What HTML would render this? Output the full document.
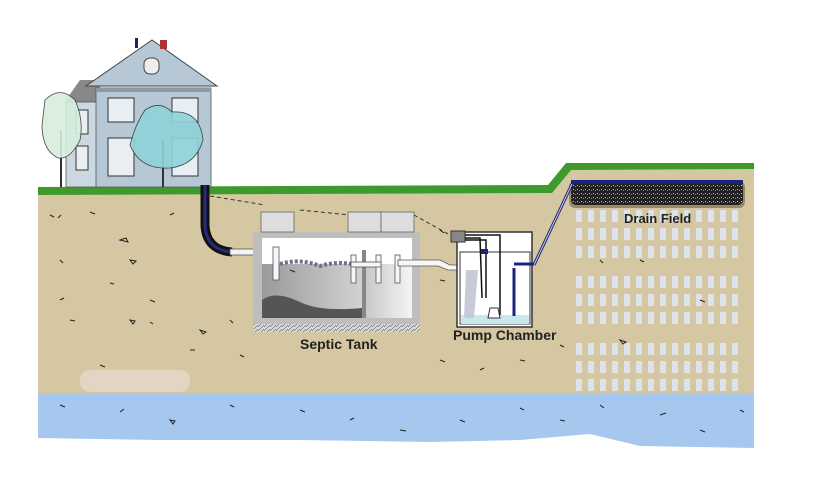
<!DOCTYPE html>
<html><head><meta charset="utf-8"><style>
html,body{margin:0;padding:0;background:#fff;width:839px;height:496px;overflow:hidden}
svg{display:block}
text{font-family:"Liberation Sans",sans-serif;font-weight:bold;fill:#222}
</style></head><body>
<svg width="839" height="496" viewBox="0 0 839 496" xmlns="http://www.w3.org/2000/svg">
<defs>
<linearGradient id="tg" x1="0" x2="1"><stop offset="0" stop-color="#9a9a9a"/><stop offset="1" stop-color="#eeeeee"/></linearGradient>
<linearGradient id="tg2" x1="0" x2="1"><stop offset="0" stop-color="#c8c8c8"/><stop offset="1" stop-color="#f4f4f4"/></linearGradient>
<pattern id="grav" width="6" height="4" patternUnits="userSpaceOnUse"><rect width="6" height="4" fill="#ddd"/><path d="M0 3 L3 0 M3 4 L6 1" stroke="#777" stroke-width="0.8"/></pattern>
<pattern id="dg" width="4" height="4" patternUnits="userSpaceOnUse"><rect width="4" height="4" fill="#222"/><rect x="1" y="1" width="1" height="1" fill="#ccc"/><rect x="3" y="2" width="1" height="1" fill="#888"/></pattern>
</defs>
<!-- soil -->
<path d="M38 192 L548 190 L570 166 L754 166 L754 400 L38 400 Z" fill="#d5c7a1"/>
<!-- water -->
<path d="M38 393 L754 393 L754 448 L640 446 L590 434 L520 440 L430 442 L300 440 L160 440 L38 438 Z" fill="#a6c8ee"/>
<!-- grass -->
<path d="M38 187 L548 185 L566 163 L754 163 L754 169 L571 170 L552 193 L38 195 Z" fill="#3f9a2d"/>
<!-- drain field bars -->
<g fill="#dde3ea">
<g id="row"><rect x="576" y="210" width="6" height="12"/><rect x="588" y="210" width="6" height="12"/><rect x="600" y="210" width="6" height="12"/><rect x="612" y="210" width="6" height="12"/><rect x="624" y="210" width="6" height="12"/><rect x="636" y="210" width="6" height="12"/><rect x="648" y="210" width="6" height="12"/><rect x="660" y="210" width="6" height="12"/><rect x="672" y="210" width="6" height="12"/><rect x="684" y="210" width="6" height="12"/><rect x="696" y="210" width="6" height="12"/><rect x="708" y="210" width="6" height="12"/><rect x="720" y="210" width="6" height="12"/><rect x="732" y="210" width="6" height="12"/></g>
<use href="#row" y="18"/><use href="#row" y="36"/>
<use href="#row" y="66"/><use href="#row" y="84"/><use href="#row" y="102"/>
<use href="#row" y="133"/><use href="#row" y="151"/><use href="#row" y="169"/>
</g>
<!-- gravel bed -->
<rect x="569" y="181" width="176" height="27" rx="6" fill="#9c8a66"/>
<rect x="571" y="182" width="172" height="23" rx="5" fill="url(#dg)"/>
<rect x="571" y="180" width="172" height="4" fill="#1a237e"/>
<text x="624" y="223" font-size="13">Drain Field</text>
<!-- pipe to drain field -->
<path d="M534 265 L572 184" stroke="#1a237e" stroke-width="3" fill="none"/>
<path d="M534 265 L572 184" stroke="#ccd" stroke-width="1" fill="none"/>
<!-- house -->
<path d="M66 100 L80 80 L100 80 L100 187 L66 187 Z" fill="#888"/>
<rect x="66" y="102" width="34" height="85" fill="#cbd8e2" stroke="#555" stroke-width="0.8"/>
<rect x="96" y="88" width="115" height="99" fill="#b6c8d6" stroke="#555" stroke-width="0.8"/>
<path d="M86 86 L152 40 L217 86 Z" fill="#b6c8d6" stroke="#444" stroke-width="1"/>
<rect x="96" y="88" width="115" height="4" fill="#8a9aa8"/>
<rect x="144" y="58" width="15" height="16" rx="6" fill="#eee" stroke="#444"/>
<rect x="160" y="40" width="7" height="9" fill="#a33"/>
<rect x="135" y="38" width="3" height="10" fill="#225"/>
<g fill="#e8eef2" stroke="#333" stroke-width="1">
<rect x="108" y="98" width="26" height="24"/><rect x="172" y="98" width="26" height="24"/>
<rect x="108" y="138" width="26" height="38"/><rect x="172" y="138" width="26" height="38"/>
<rect x="76" y="110" width="12" height="24"/><rect x="76" y="146" width="12" height="24"/>
</g>
<!-- trees -->
<path d="M61 187 L61 130" stroke="#333" stroke-width="2"/>
<path d="M45 100 Q60 85 75 100 Q84 120 80 140 Q70 160 58 158 Q42 150 42 125 Z" fill="#d6eedd" stroke="#333" stroke-width="0.8" opacity="0.9"/>
<path d="M163 187 L163 140" stroke="#333" stroke-width="2"/>
<path d="M145 110 Q160 100 172 112 Q200 110 203 140 Q196 165 170 168 Q140 170 130 145 Q135 125 145 110 Z" fill="#8ed3d8" stroke="#333" stroke-width="0.8" opacity="0.9"/>
<!-- inlet pipe -->
<path d="M205 185 L205 225 Q206 250 232 252" stroke="#111" stroke-width="9" fill="none"/>
<path d="M205 185 L205 225 Q206 250 232 252" stroke="#2a2a7a" stroke-width="3" fill="none"/>
<rect x="230" y="249" width="45" height="6" fill="#f4f4f4" stroke="#555" stroke-width="0.8"/>
<path d="M210 196 L265 205 M300 210 L350 215 M414 215 L450 235" stroke="#333" stroke-dasharray="4 3" fill="none"/>
<!-- septic tank -->
<rect x="253" y="232" width="167" height="92" fill="#bdbdbd"/>
<rect x="262" y="238" width="150" height="80" fill="url(#tg)"/>
<rect x="262" y="238" width="150" height="26" fill="#fff"/>
<rect x="365" y="264" width="47" height="54" fill="url(#tg2)"/>
<path d="M262 318 L262 300 Q275 290 300 302 Q320 312 362 308 L362 318 Z" fill="#555"/>
<rect x="362" y="250" width="4" height="68" fill="#888"/>
<path d="M280 264 Q300 258 320 266 Q340 260 360 266" stroke="#7a6a8a" stroke-width="4" fill="none" stroke-dasharray="3 2"/>
<g fill="#f6f6f6" stroke="#555" stroke-width="0.8">
<rect x="273" y="247" width="6" height="33"/><rect x="351" y="255" width="5" height="28"/><rect x="376" y="255" width="5" height="28"/>
<rect x="395" y="255" width="5" height="28"/><rect x="351" y="262" width="30" height="5"/>
<path d="M398 260 L440 260 L450 265 L468 265 L468 270 L448 270 L438 266 L398 266 Z"/>
</g>
<rect x="254" y="324" width="166" height="8" fill="url(#grav)"/>
<g fill="#ddd" stroke="#666" stroke-width="0.8">
<rect x="261" y="212" width="33" height="20"/><rect x="348" y="212" width="33" height="20"/><rect x="381" y="212" width="33" height="20"/>
</g>
<text x="300" y="349" font-size="14">Septic Tank</text>
<!-- pump chamber -->
<rect x="457" y="232" width="75" height="95" fill="#fff" stroke="#333" stroke-width="1.5"/>
<rect x="460" y="252" width="70" height="72" fill="#fff" stroke="#333" stroke-width="1"/>
<rect x="461" y="315" width="68" height="9" fill="#c8e8ee"/>
<path d="M466 270 L478 270 L474 318 L464 318 Z" fill="#c8cad8"/>
<rect x="451" y="231" width="14" height="11" fill="#888" stroke="#333"/>
<path d="M465 235 L500 235 L500 315 M465 238 L480 238 L482 298 M465 240 L486 240 L486 298" stroke="#111" stroke-width="1.5" fill="none"/>
<rect x="481" y="249" width="7" height="5" fill="#1a237e"/>
<path d="M490 308 L498 308 L500 318 L488 318 Z" fill="#fff" stroke="#333"/>
<path d="M514 268 L514 316" stroke="#1a237e" stroke-width="3"/>
<path d="M514 264 L534 264" stroke="#1a237e" stroke-width="3"/>
<text x="453" y="340" font-size="14">Pump Chamber</text>
<!-- scattered rocks -->
<g fill="none" stroke="#222" stroke-width="1">
<path d="M50 215 l4 2 M58 218 l3 -3 M90 212 l5 2 M120 240 l6 -2 l2 4 z M130 260 l6 1 l-3 3 z M60 260 l3 3 M110 283 l4 1 M70 320 l5 1 M130 320 l5 1 l-2 3 z M150 322 l3 2 M190 350 l5 0 M200 330 l6 2 l-3 2 z M240 355 l4 2 M170 215 l4 -2 M150 300 l5 2 M100 365 l5 2 M60 300 l4 -2 M230 320 l3 3 M290 270 l5 2"/>
<path d="M60 405 l5 2 M120 412 l4 -3 M170 420 l5 1 l-2 3 z M230 405 l4 2 M300 410 l5 2 M350 420 l4 -2 M400 430 l6 1 M460 420 l5 2 M520 408 l4 2 M560 420 l5 1 M600 405 l4 3 M660 415 l6 -2 M700 430 l5 2 M740 410 l4 2"/>
<path d="M440 360 l5 2 M480 370 l4 -2 M520 360 l5 1 M560 345 l4 2 M620 340 l6 2 l-3 2 z M700 300 l5 2 M640 260 l4 2 M440 230 l4 3 M440 280 l5 1 M600 260 l3 3"/>
</g>
<rect x="80" y="370" width="110" height="22" fill="#efe3e6" opacity="0.5" rx="10"/>
</svg>
</body></html>
